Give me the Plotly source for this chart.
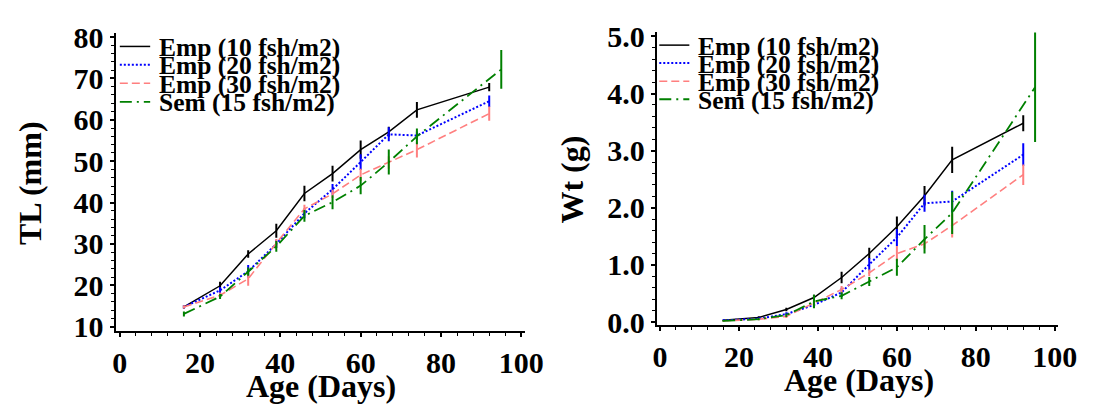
import plotly.graph_objects as go

# ---------------- data ----------------
age_emp = [16, 25, 32, 39, 46, 53, 60, 67, 74, 92]
age_sem = [16, 25, 32, 39, 46, 53, 60, 67, 74, 95]

series_names = ["Emp (10 fsh/m2)", "Emp (20 fsh/m2)", "Emp (30 fsh/m2)", "Sem (15 fsh/m2)"]

# Total length (mm)
tl_emp10 = [14.8, 19.9, 27.6, 33.2, 42.2, 47.0, 52.8, 57.1, 62.4, 67.9]
tl_emp20 = [14.8, 18.8, 23.4, 30.0, 37.4, 43.2, 49.8, 56.5, 56.2, 64.5]
tl_emp30 = [14.8, 17.6, 21.6, 30.2, 38.5, 42.1, 46.7, 49.7, 52.8, 61.5]
tl_sem15 = [13.1, 17.3, 23.3, 29.4, 36.8, 40.1, 44.1, 49.8, 56.0, 72.2]

tl_emp10_err = [0.4, 1.0, 0.9, 1.7, 1.9, 1.9, 2.2, 1.2, 1.9, 1.0]
tl_emp20_err = [0.4, 0.8, 1.5, 1.0, 1.2, 1.3, 1.9, 1.7, 1.0, 1.4]
tl_emp30_err = [0.4, 0.7, 1.7, 1.0, 1.0, 1.0, 1.5, 1.5, 1.9, 1.7]
tl_sem15_err = [0.6, 0.6, 1.0, 1.3, 1.4, 1.7, 2.1, 3.0, 1.9, 4.7]

# Weight (g)
wt_emp10 = [0.03, 0.08, 0.22, 0.43, 0.78, 1.20, 1.67, 2.21, 2.84, 3.48]
wt_emp20 = [0.03, 0.06, 0.14, 0.30, 0.52, 1.01, 1.48, 2.08, 2.11, 2.93]
wt_emp30 = [0.02, 0.05, 0.10, 0.34, 0.57, 0.86, 1.20, 1.37, 1.69, 2.58]
wt_sem15 = [0.02, 0.05, 0.12, 0.36, 0.46, 0.71, 0.96, 1.45, 1.91, 4.11]

wt_emp10_err = [0.01, 0.02, 0.03, 0.05, 0.10, 0.10, 0.18, 0.17, 0.23, 0.14]
wt_emp20_err = [0.01, 0.02, 0.03, 0.05, 0.08, 0.11, 0.15, 0.15, 0.19, 0.20]
wt_emp30_err = [0.01, 0.02, 0.03, 0.05, 0.06, 0.06, 0.13, 0.08, 0.21, 0.18]
wt_sem15_err = [0.01, 0.02, 0.03, 0.12, 0.06, 0.08, 0.15, 0.25, 0.37, 0.96]

x_ticks = [0, 20, 40, 60, 80, 100]
tl_ticks = [10, 20, 30, 40, 50, 60, 70, 80]
wt_ticks = [0.0, 1.0, 2.0, 3.0, 4.0, 5.0]

# ---------------- styles ----------------
colors = ["#000000", "#0000ff", "#ff7f7f", "#008000"]
dashes = ["solid", "2px,2px", "8px,4px", "12px,5px,2px,5px"]
widths = [1.5, 2.0, 1.6, 1.8]

W, H = 1098, 410
FONT = "Liberation Serif"

fig = go.Figure()

tl_sets = [(age_emp, tl_emp10, tl_emp10_err), (age_emp, tl_emp20, tl_emp20_err),
           (age_emp, tl_emp30, tl_emp30_err), (age_sem, tl_sem15, tl_sem15_err)]
wt_sets = [(age_emp, wt_emp10, wt_emp10_err), (age_emp, wt_emp20, wt_emp20_err),
           (age_emp, wt_emp30, wt_emp30_err), (age_sem, wt_sem15, wt_sem15_err)]

for i, (xs, ys, es) in enumerate(tl_sets):
    fig.add_trace(go.Scatter(
        x=xs, y=ys, mode="lines", name=series_names[i], showlegend=False,
        line=dict(color=colors[i], dash=dashes[i], width=widths[i]),
        error_y=dict(type="data", array=es, visible=True, width=0, thickness=2, color=colors[i]),
        xaxis="x", yaxis="y"))

for i, (xs, ys, es) in enumerate(wt_sets):
    fig.add_trace(go.Scatter(
        x=xs, y=ys, mode="lines", name=series_names[i], showlegend=False,
        line=dict(color=colors[i], dash=dashes[i], width=widths[i]),
        error_y=dict(type="data", array=es, visible=True, width=0, thickness=2, color=colors[i]),
        xaxis="x2", yaxis="y2"))

tickfont = dict(family=FONT, size=30, color="black", weight="bold")
common_axis = dict(showline=True, linecolor="black", linewidth=2, ticks="outside",
                   ticklen=4, tickwidth=1.5, tickcolor="black", showgrid=False,
                   zeroline=False, tickfont=tickfont)


def px_x(p):
    return p / W


def px_y(p):
    return 1 - p / H


def minor(dt):
    return dict(dtick=dt, tick0=0, ticks="outside", ticklen=2.5, tickwidth=1.2, tickcolor="black")


fig.update_layout(
    width=W, height=H,
    margin=dict(l=0, r=0, t=0, b=0),
    paper_bgcolor="white", plot_bgcolor="white",
    showlegend=False,
    xaxis=dict(domain=[px_x(114), px_x(531.7)], range=[-1.0, 100.8], anchor="y",
               tickvals=x_ticks, minor=minor(4), **common_axis),
    yaxis=dict(domain=[px_y(340), px_y(21.7)], range=[8.87, 80.9], anchor="x",
               tickvals=tl_ticks, minor=minor(2), **common_axis),
    xaxis2=dict(domain=[px_x(666.7), px_x(1076.7)], range=[-0.82, 100.84], anchor="y2",
                tickvals=x_ticks, minor=minor(4), **common_axis),
    yaxis2=dict(domain=[px_y(333.3), px_y(20)], range=[-0.054, 5.082], anchor="x2",
                tickvals=wt_ticks, tickformat=".1f", minor=minor(0.2), **common_axis),
)

# ---------------- axis titles ----------------
title_font = dict(family=FONT, size=32, color="black", weight="bold")
fig.add_annotation(text="Age (Days)", x=px_x(324), y=px_y(398), xref="paper", yref="paper",
                   xanchor="center", yanchor="middle", showarrow=False, font=title_font)
fig.add_annotation(text="Age (Days)", x=px_x(873), y=px_y(392), xref="paper", yref="paper",
                   xanchor="center", yanchor="middle", showarrow=False, font=title_font)
fig.add_annotation(text="TL (mm)", x=px_x(26), y=px_y(181), xref="paper", yref="paper",
                   xanchor="center", yanchor="middle", textangle=-90, showarrow=False,
                   font=title_font)
fig.add_annotation(text="Wt (g)", x=px_x(580), y=px_y(178), xref="paper", yref="paper",
                   xanchor="center", yanchor="middle", textangle=-90, showarrow=False,
                   font=title_font)

# ---------------- custom legends ----------------
legend_font = dict(family=FONT, size=25.5, color="black", weight="bold")
legend_specs = [
    # (line x0, line x1, text x, row y list)
    (118.3, 149.3, 156.7, [35.7, 55.2, 75.0, 94.8]),
    (669.3, 700.0, 706.7, [34.3, 53.5, 72.8, 92.1]),
]
for lx0, lx1, tx, rows in legend_specs:
    for i, ry in enumerate(rows):
        fig.add_shape(type="line", xref="paper", yref="paper",
                      x0=px_x(lx0), x1=px_x(lx1), y0=px_y(ry), y1=px_y(ry),
                      line=dict(color=colors[i], dash=dashes[i], width=widths[i]))
        fig.add_annotation(text=series_names[i], x=px_x(tx), y=px_y(ry + 1), xref="paper",
                           yref="paper", xanchor="left", yanchor="middle", showarrow=False,
                           font=legend_font)

fig.write_html("out.html")
